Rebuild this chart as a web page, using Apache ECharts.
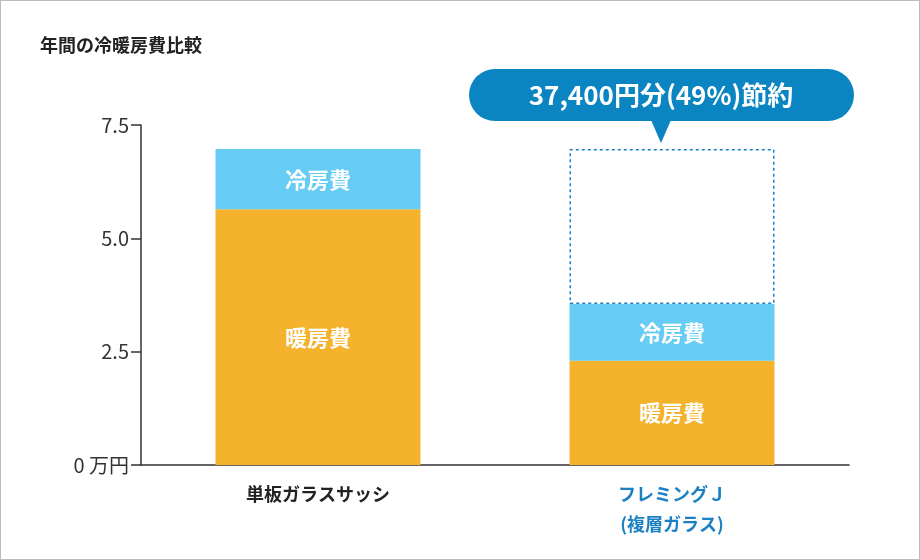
<!DOCTYPE html>
<html><head><meta charset="utf-8">
<script src="https://cdn.jsdelivr.net/npm/echarts@6/dist/echarts.min.js"></script>
<style>html,body{margin:0;padding:0;background:#fff}#c{width:918px;height:558px;border:1px solid #bbb}</style>
</head><body><div id="c"></div>
<script>
const categories = ['単板ガラスサッシ', 'フレミングＪ\n(複層ガラス)'];
const heating = [5.64, 2.30];
const cooling = [1.33, 1.25];
const saved = [null, 3.42];
const yTicks = {0: '0 万円', 2.5: '2.5', 5: '5.0', 7.5: '7.5'};
const F = '"Noto Sans CJK JP","Noto Sans",sans-serif';
const chart = echarts.init(document.getElementById('c'));
const lab = t => ({show: true, formatter: t, color: '#fff', fontSize: 22, fontWeight: 'bold', fontFamily: F});
chart.setOption({
  animation: false,
  title: {text: '年間の冷暖房費比較', left: 34, top: 30, textStyle: {fontSize: 18, fontWeight: 'bold', color: '#222', fontFamily: F}},
  grid: {left: 140, right: 70, top: 124, bottom: 94},
  xAxis: {type: 'category', data: categories,
    axisLine: {lineStyle: {color: '#333', width: 1.5}}, axisTick: {show: false},
    axisLabel: {margin: 14, fontSize: 18, fontWeight: 'bold', fontFamily: F, lineHeight: 30,
      color: (v, i) => i === 1 ? '#1a82c4' : '#222'}},
  yAxis: {type: 'value', min: 0, max: 7.5, interval: 2.5,
    axisLine: {show: true, lineStyle: {color: '#333', width: 1.5}},
    axisTick: {show: true, length: 10, lineStyle: {color: '#333', width: 1.5}},
    splitLine: {show: false},
    axisLabel: {fontSize: 20, color: '#333', fontFamily: F, margin: 12, formatter: v => yTicks[v]}},
  series: [
    {type: 'bar', stack: 's', data: heating, barWidth: 205, itemStyle: {color: '#F5B22D'}, label: lab('暖房費')},
    {type: 'bar', stack: 's', data: cooling, itemStyle: {color: '#66CCF3'}, label: lab('冷房費')},
    {type: 'bar', stack: 's', data: saved, itemStyle: {color: 'rgba(0,0,0,0)', borderColor: '#1a82c4', borderWidth: 1.5, borderType: [3, 3]}}
  ],
  graphic: [
    {type: 'rect', shape: {x: 468, y: 68, width: 385, height: 52, r: 26}, style: {fill: '#0A85C2'}},
    {type: 'polygon', shape: {points: [[650, 119], [670, 119], [660, 142]]}, style: {fill: '#0A85C2'}},
    {type: 'text', left: 'center', x: 660, y: 94, style: {text: '37,400円分(49%)節約', fill: '#fff', fontSize: 26, fontWeight: 'bold', fontFamily: F, align: 'center', verticalAlign: 'middle'}, left: null}
  ]
});
</script></body></html>
